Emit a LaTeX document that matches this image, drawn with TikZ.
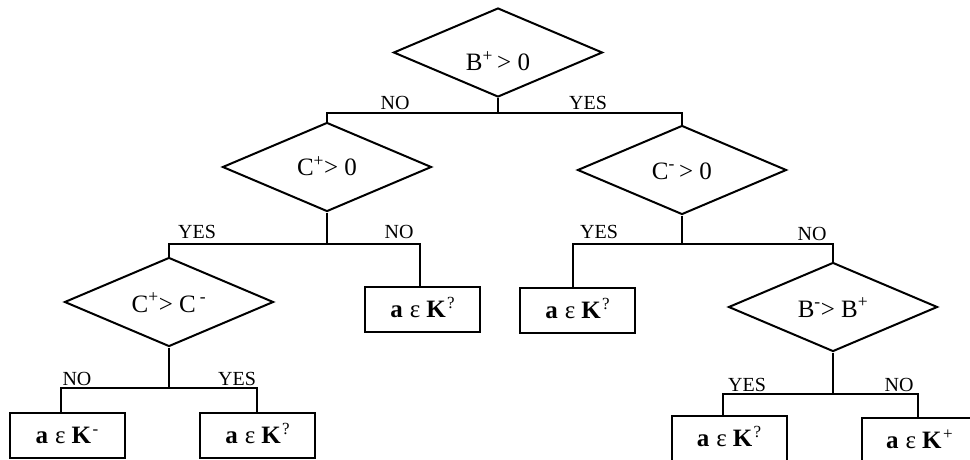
\documentclass[tikz,border=0pt]{standalone}
\usepackage{fontspec}
\setmainfont{Liberation Serif}
\usetikzlibrary{shapes.geometric}

% text placed with its baseline a given distance below the node centre
\newcommand\dlab[2]{\raisebox{-#1}[0pt][0pt]{#2}}
% outcome text: a ε K with a raised mark
\newcommand\member[1]{\textbf{a}\hspace{7pt}ε\hspace{6pt}\textbf{K}\hspace{1.5pt}\raisebox{9pt}{\fontsize{17}{17}\selectfont #1}}

\tikzset{
  decision/.style={diamond, draw, line width=2pt, minimum width=209pt,
    minimum height=89pt, inner sep=0pt, font=\fontsize{25}{25}\selectfont},
  leaf/.style={rectangle, draw, line width=2pt, minimum width=115pt,
    minimum height=45pt, inner sep=0pt, font=\fontsize{25}{25}\selectfont},
  branch/.style={font=\fontsize{20}{20}\selectfont, inner sep=0pt, anchor=base},
  wire/.style={line width=2pt}
}

\begin{document}
\begin{tikzpicture}[x=1pt, y=-1pt]
  \fill[white] (0,0) rectangle (970,460);
  \useasboundingbox (0,0) rectangle (970,460);
  \clip (0,0) rectangle (970,460);

  % decisions
  \node[decision] (d1) at (498,52.5) {\dlab{18pt}{B\textsuperscript{+}\,> 0}};
  \node[decision] (d2) at (327,167) {\dlab{9pt}{C\textsuperscript{+}> 0}};
  \node[decision] (d3) at (682,170) {\dlab{9pt}{C\textsuperscript{-}\,> 0}};
  \node[decision] (d4) at (169,302) {\dlab{10pt}{C\textsuperscript{+}> C\,\textsuperscript{-}}};
  \node[decision] (d5) at (833,307) {\dlab{10pt}{B\textsuperscript{-}> B\textsuperscript{+}}};

  % outcomes
  \node[leaf] (b1) at (422.5,309.5) {\dlab{8pt}{\member{?}}};
  \node[leaf] (b2) at (577.5,310)   {\dlab{8pt}{\member{?}}};
  \node[leaf] (b3) at (67,435)      {\dlab{8pt}{\member{-}}};
  \node[leaf] (b4) at (257.5,435.5) {\dlab{8pt}{\member{?}}};
  \node[leaf] (b5) at (729,438.5)   {\dlab{8pt}{\member{?}}};
  \node[leaf] (b6) at (919.5,440.5) {\dlab{8pt}{\member{+}}};

  % branching points
  \coordinate (j1) at (498,113);
  \coordinate (j2) at (327,244);
  \coordinate (j3) at (682,244);
  \coordinate (j4) at (169,388);
  \coordinate (j5) at (833,394);

  % connectors
  \draw[wire] (d1.south) -- (j1);
  \draw[wire] (d2.north) |- (j1) -| (d3.north);
  \draw[wire] (d2.south) -- (j2);
  \draw[wire] (d4.north) |- (j2) -| ([xshift=-2.5pt]b1.north);
  \draw[wire] (d3.south) -- (j3);
  \draw[wire] ([xshift=-4.5pt]b2.north) |- (j3) -| (d5.north);
  \draw[wire] (d4.south) -- (j4);
  \draw[wire] ([xshift=-6pt]b3.north) |- (j4) -| ([xshift=-0.5pt]b4.north);
  \draw[wire] (d5.south) -- (j5);
  \draw[wire] ([xshift=-6pt]b5.north) |- (j5) -| ([xshift=-1.5pt]b6.north);

  % branch labels
  \node[branch] (l1) at (395,110) {NO};
  \node[branch] (l2) at (588,110) {YES};
  \node[branch] (l3) at (197,238) {YES};
  \node[branch] (l4) at (399,238) {NO};
  \node[branch] (l5) at (599,238) {YES};
  \node[branch] (l6) at (812,240) {NO};
  \node[branch] (l7) at (77,385) {NO};
  \node[branch] (l8) at (237,385) {YES};
  \node[branch] (l9) at (747,391) {YES};
  \node[branch] (l10) at (899,391) {NO};
\end{tikzpicture}
\end{document}
